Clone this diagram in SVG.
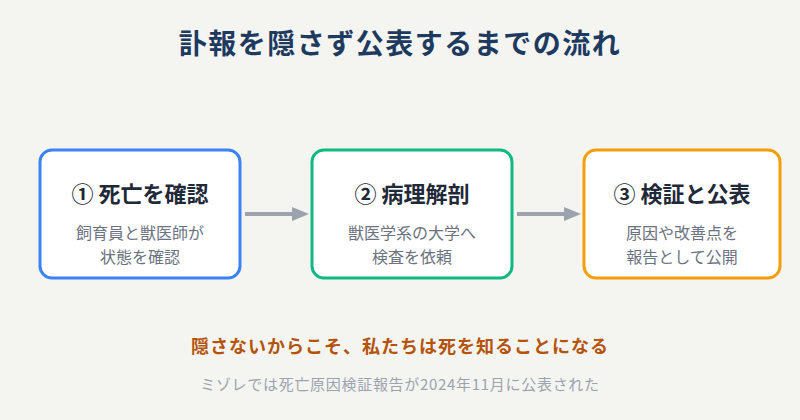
<svg xmlns="http://www.w3.org/2000/svg" width="800" height="420" viewBox="0 0 800 420">
<style>
text{font-family:"Noto Sans CJK JP","Noto Sans",sans-serif;text-anchor:middle;dominant-baseline:central}
.title{font-size:28px;font-weight:700;fill:#1e3a5f;letter-spacing:1.5px}
.box{fill:#ffffff;stroke-width:3}
.head{font-size:22px;font-weight:700;fill:#1f2937}
.sub{font-size:16px;fill:#6b7280}
.tag{font-size:18px;font-weight:700;fill:#b45309;letter-spacing:1px}
.foot{font-size:15px;fill:#9ca3af;letter-spacing:0.7px}
.conn{stroke:#9ca3af;stroke-width:4;fill:none}
.ah{fill:#9ca3af}
</style>
<rect width="800" height="420" fill="#f4f5f1"/>
<text class="title" x="400" y="42">訃報を隠さず公表するまでの流れ</text>
<g id="node1">
<rect class="box" x="40" y="150" width="200" height="128" rx="12" stroke="#3b82f6"/>
<text class="head" x="140" y="192">① 死亡を確認</text>
<text class="sub" x="140" y="232">飼育員と獣医師が</text>
<text class="sub" x="140" y="256">状態を確認</text>
</g>
<g id="node2">
<rect class="box" x="312" y="150" width="200" height="128" rx="12" stroke="#10b981"/>
<text class="head" x="412" y="192">② 病理解剖</text>
<text class="sub" x="412" y="232">獣医学系の大学へ</text>
<text class="sub" x="412" y="256">検査を依頼</text>
</g>
<g id="node3">
<rect class="box" x="584" y="150" width="196" height="128" rx="12" stroke="#f59e0b"/>
<text class="head" x="682" y="192">③ 検証と公表</text>
<text class="sub" x="682" y="232">原因や改善点を</text>
<text class="sub" x="682" y="256">報告として公開</text>
</g>
<g id="connectors">
<line class="conn" x1="245" y1="214" x2="294" y2="214"/>
<polygon class="ah" points="292,207 309,214 292,221"/>
<line class="conn" x1="517" y1="214" x2="566" y2="214"/>
<polygon class="ah" points="564,207 581,214 564,221"/>
</g>
<text class="tag" x="400" y="345">隠さないからこそ、私たちは死を知ることになる</text>
<text class="foot" x="400" y="383">ミゾレでは死亡原因検証報告が2024年11月に公表された</text>
</svg>
